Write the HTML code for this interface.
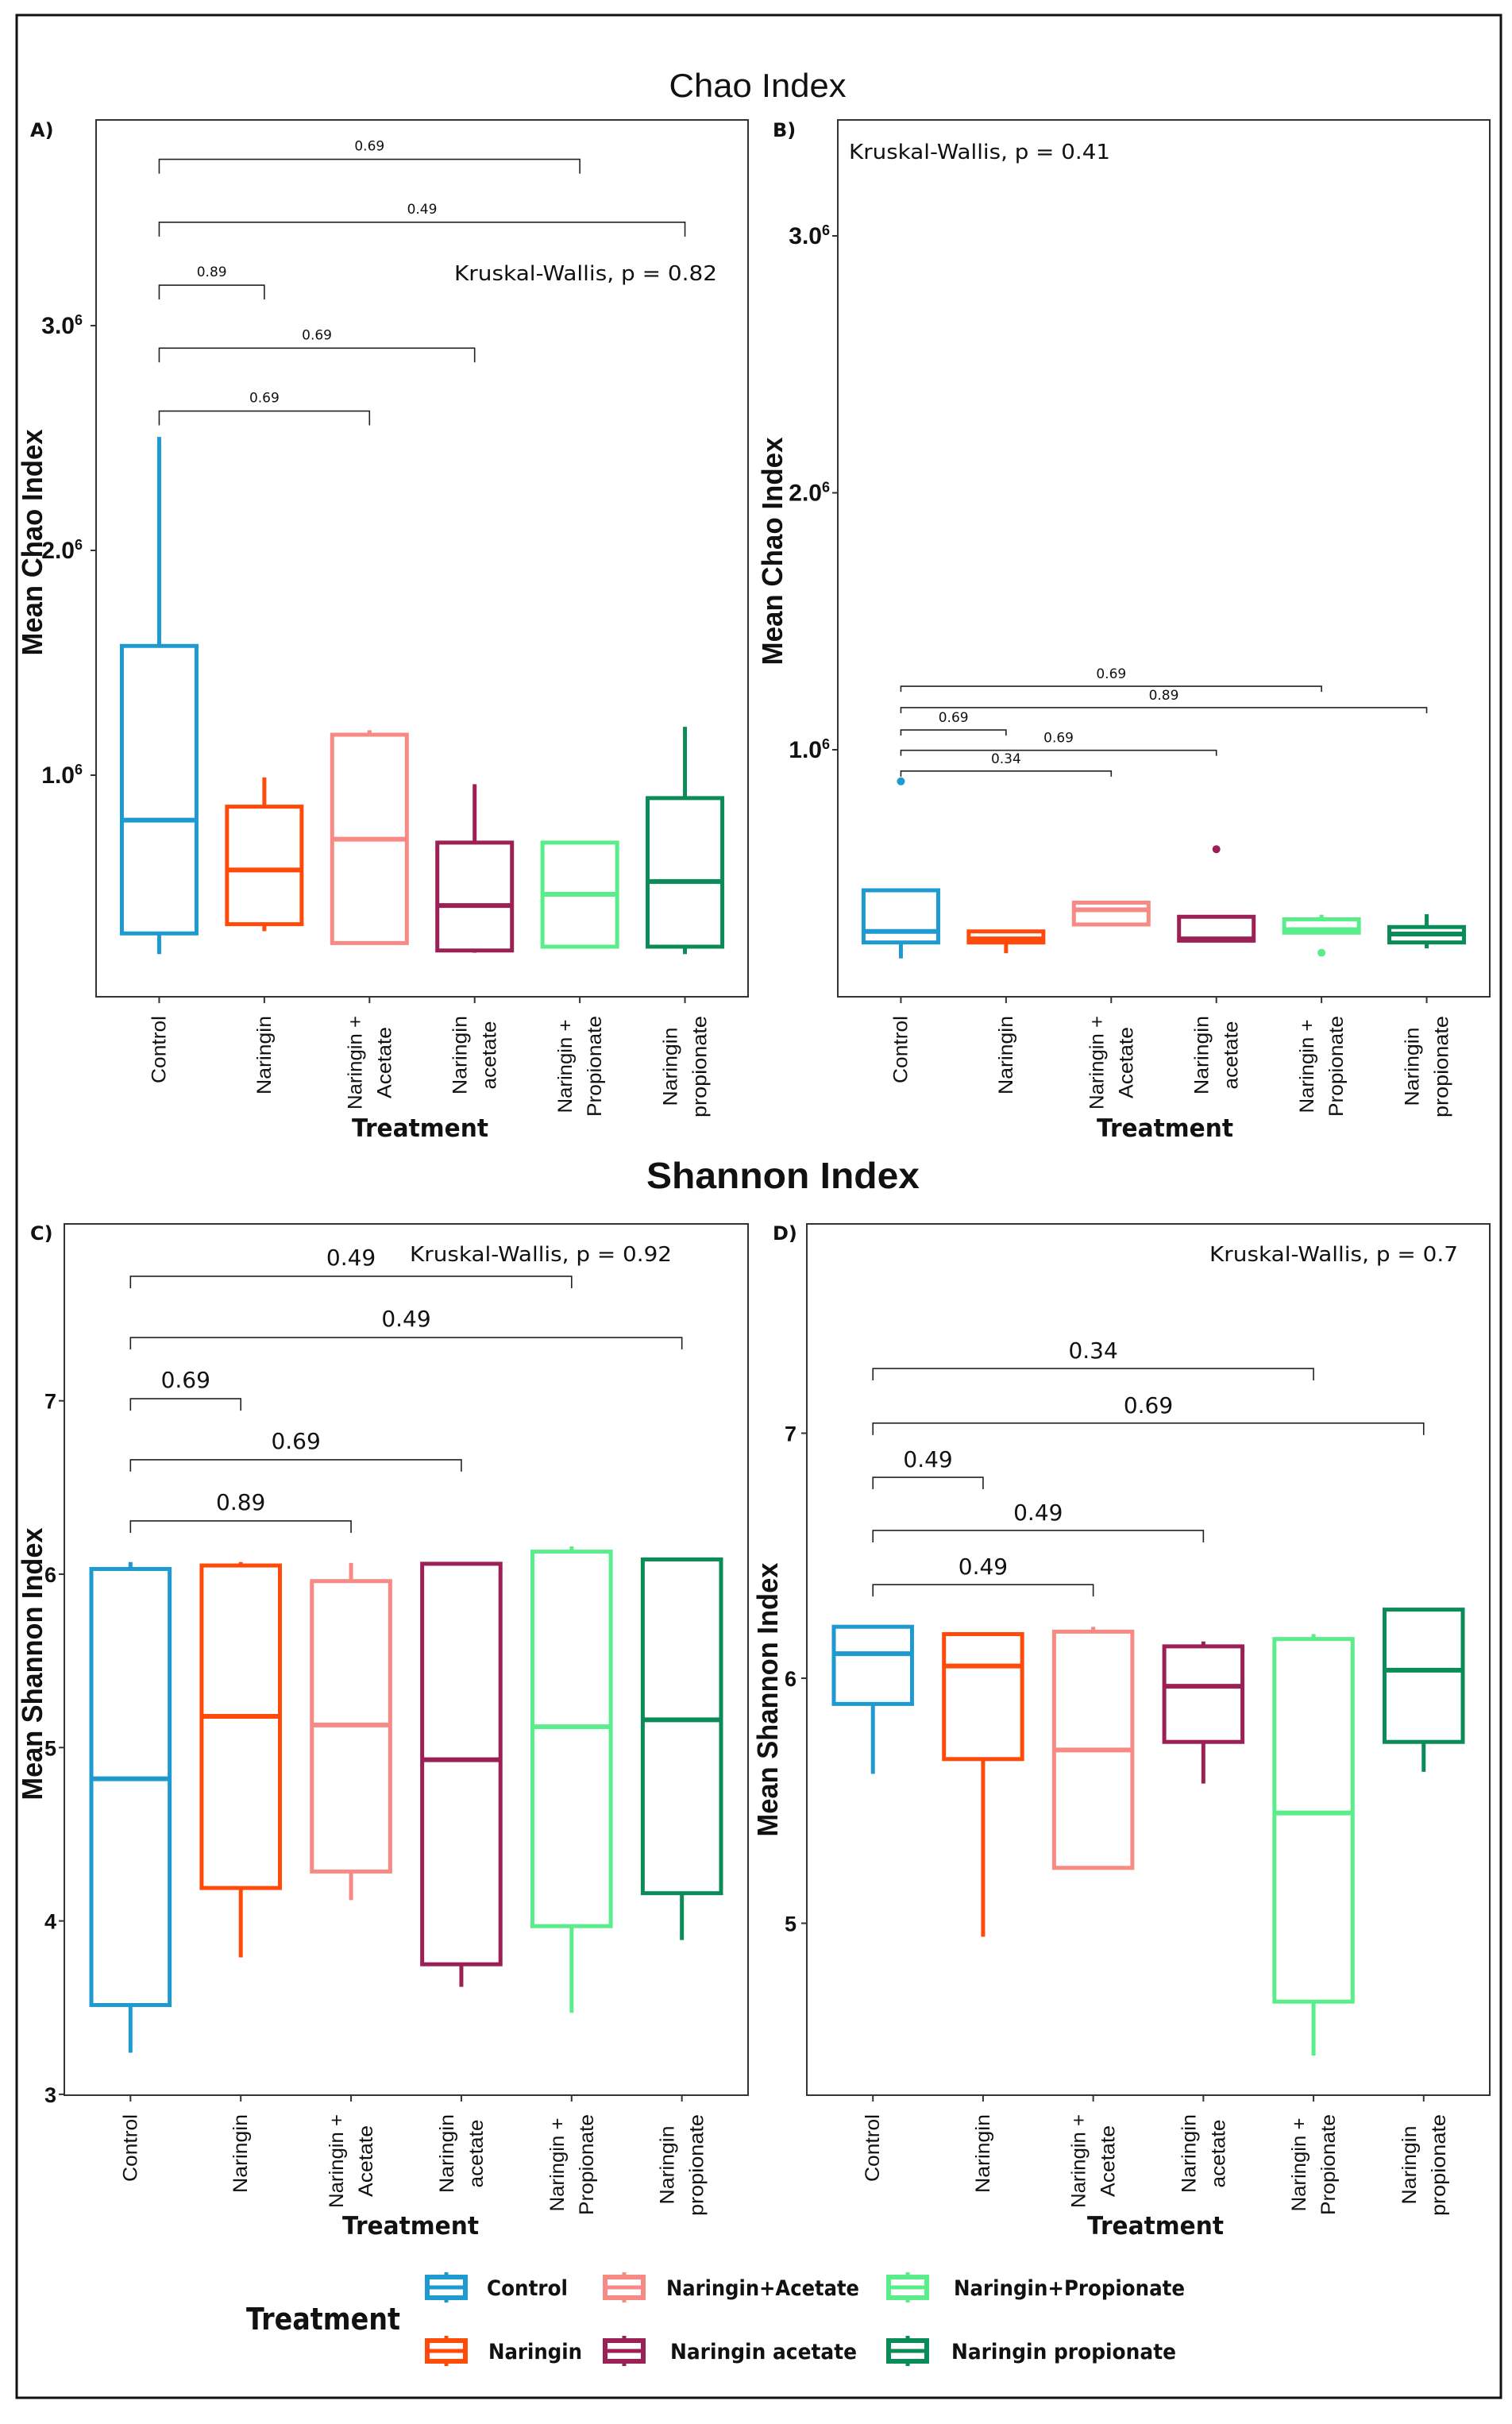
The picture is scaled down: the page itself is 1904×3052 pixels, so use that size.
<!DOCTYPE html>
<html><head><meta charset="utf-8">
<style>
html,body{margin:0;padding:0;background:#fff;}
svg{display:block;}
</style></head>
<body>
<svg id="fig" xmlns="http://www.w3.org/2000/svg" width="1904" height="3052" viewBox="0 0 1904 3052">
<rect x="0" y="0" width="1904" height="3052" fill="#fff"/>
<rect x="21" y="19" width="1869" height="3000" fill="none" stroke="#111" stroke-width="3"/>
</svg>
<script>
// ---- data ----
const categories=["Control","Naringin","Naringin + Acetate","Naringin acetate","Naringin + Propionate","Naringin propionate"];
const categoryLines=[["Control"],["Naringin"],["Naringin +","Acetate"],["Naringin","acetate"],["Naringin +","Propionate"],["Naringin","propionate"]];

const chaoA_low=[0.204,0.306,0.253,0.21,0.237,0.204];
const chaoA_q1=[0.296,0.337,0.253,0.22,0.237,0.237];
const chaoA_med=[0.80,0.578,0.715,0.42,0.47,0.527];
const chaoA_q3=[1.575,0.86,1.18,0.70,0.70,0.898];
const chaoA_high=[2.505,0.99,1.2,0.96,0.70,1.215];
const chaoA_out=[[],[],[],[],[],[]];
const chaoA_pairs=[4,5,1,3,2];
const chaoA_pvals=["0.69","0.49","0.89","0.69","0.69"];
const chaoA_brY=[3.74,3.46,3.18,2.90,2.62];
const chaoA_kw="Kruskal-Wallis, p = 0.82";

const chaoB_low=[0.188,0.208,0.32,0.257,0.288,0.227];
const chaoB_q1=[0.25,0.25,0.32,0.257,0.288,0.25];
const chaoB_med=[0.293,0.264,0.377,0.264,0.30,0.283];
const chaoB_q3=[0.453,0.293,0.405,0.35,0.34,0.31];
const chaoB_high=[0.453,0.293,0.41,0.35,0.358,0.36];
const chaoB_out=[[0.877],[],[],[0.613],[0.21],[]];
const chaoB_pairs=[4,5,1,3,2];
const chaoB_pvals=["0.69","0.89","0.69","0.69","0.34"];
const chaoB_brY=[1.247,1.164,1.077,0.998,0.917];
const chaoB_kw="Kruskal-Wallis, p = 0.41";

const shanC_low=[3.24,3.79,4.12,3.62,3.47,3.89];
const shanC_q1=[3.515,4.19,4.285,3.75,3.97,4.16];
const shanC_med=[4.82,5.18,5.13,4.93,5.12,5.16];
const shanC_q3=[6.03,6.05,5.96,6.06,6.13,6.085];
const shanC_high=[6.07,6.07,6.065,6.06,6.16,6.09];
const shanC_out=[[],[],[],[],[],[]];
const shanC_pairs=[4,5,1,3,2];
const shanC_pvals=["0.49","0.49","0.69","0.69","0.89"];
const shanC_brY=[7.718,7.365,7.012,6.660,6.307];
const shanC_kw="Kruskal-Wallis, p = 0.92";

const shanD_low=[5.61,4.945,5.226,5.57,4.46,5.618];
const shanD_q1=[5.895,5.67,5.226,5.74,4.68,5.74];
const shanD_med=[6.10,6.05,5.707,5.967,5.45,6.033];
const shanD_q3=[6.21,6.18,6.19,6.13,6.16,6.28];
const shanD_high=[6.217,6.18,6.21,6.15,6.18,6.287];
const shanD_out=[[],[],[],[],[],[]];
const shanD_pairs=[4,5,1,3,2];
const shanD_pvals=["0.34","0.69","0.49","0.49","0.49"];
const shanD_brY=[7.264,7.041,6.820,6.603,6.382];
const shanD_kw="Kruskal-Wallis, p = 0.7";

const chaoTicks=[1,2,3];
const shanCTicks=[3,4,5,6,7];
const shanDTicks=[5,6,7];

// ---- style ----
const colors=["#1e9ad0","#ff4a0a","#f88a85","#9b2055","#5bec8c","#0b8b57"];
const NS="http://www.w3.org/2000/svg";
const svg=document.getElementById('fig');

function mk(tag,attrs,parent){
  const e=document.createElementNS(NS,tag);
  for(const k in attrs)e.setAttribute(k,attrs[k]);
  (parent||svg).appendChild(e);
  return e;
}
function label(x,y,str,size,fam,weight,anchor,len,parent){
  const t=mk('text',{x:x,y:y,'font-size':size,'font-family':fam,'font-weight':weight,'text-anchor':anchor,fill:'#111'},parent);
  if(len){t.setAttribute('textLength',len);t.setAttribute('lengthAdjust','spacingAndGlyphs');}
  t.textContent=str;
  return t;
}
const SANS='"Liberation Sans", sans-serif';
const DJ='"DejaVu Sans", "Liberation Sans", sans-serif';

function panel(cfg){
  const g=mk('g',{});
  
  
  const w=cfg.right-cfg.left;
  const step=w/6.2;
  const xs=i=>cfg.left+(i+0.6)*step;
  const ys=v=>cfg.y0-(v-cfg.v0)*cfg.unit;
  const bw=0.71*step;
  const fr=mk('rect',{x:cfg.left,y:cfg.top,width:w,height:cfg.bottom-cfg.top,fill:'none',stroke:'#333','stroke-width':2},g);
  
  
  cfg.ticks.forEach(v=>{
    const y=ys(v);
    mk('line',{x1:cfg.left-7,x2:cfg.left,y1:y,y2:y,stroke:'#333','stroke-width':2},g);
    const t=label(cfg.tickRight,y+10,cfg.chao?v.toFixed(1):String(v),cfg.chao?30:27,SANS,'bold','end',null,g);
    if(cfg.chao){
      const sp=mk('tspan',{'font-size':18,dy:-11},t);
      sp.textContent='6';
      t.setAttribute('x',cfg.tickRight-4);
    }
    
    
  });
  categoryLines.forEach((lines,i)=>{
    const x=xs(i);
    mk('line',{x1:x,x2:x,y1:cfg.bottom,y2:cfg.bottom+8,stroke:'#333','stroke-width':2},g);
    const lens={"Control":85,"Naringin":99,"Naringin +":118,"Acetate":90,"acetate":86,"Propionate":127,"propionate":128};
    const blockLen=Math.max(...lines.map(l=>lens[l]));
    const yTop=cfg.bottom+24;
    const offs=lines.length===1?[0]:[-18,19];
    lines.forEach((ln,j)=>{
      const cx=x+offs[j]+8;
      const cy=yTop+blockLen/2;
      const t=label(0,0,ln,25,SANS,'normal','middle',lens[ln],g);
      t.setAttribute('transform','translate('+cx+','+cy+') rotate(-90)');
      
      
    });
  });
  for(let i=0;i<6;i++){
    const x=xs(i),c=colors[i];
    const wh=mk('line',{x1:x,x2:x,y1:ys(cfg.high[i]),y2:ys(cfg.q3[i]),stroke:c,'stroke-width':5},g);
    
    
    const wl=mk('line',{x1:x,x2:x,y1:ys(cfg.q1[i]),y2:ys(cfg.low[i]),stroke:c,'stroke-width':5},g);
    
    
    const b=mk('rect',{x:x-bw/2,y:ys(cfg.q3[i]),width:bw,height:Math.max(1,ys(cfg.q1[i])-ys(cfg.q3[i])),fill:'#fff',stroke:c,'stroke-width':5},g);
    
    
    const m=mk('line',{x1:x-bw/2,x2:x+bw/2,y1:ys(cfg.med[i]),y2:ys(cfg.med[i]),stroke:c,'stroke-width':6},g);
    
    
    cfg.out[i].forEach(v=>{
      const p=mk('circle',{cx:x,cy:ys(v),r:5,fill:c},g);
      
      
    });
  }
  cfg.pairs.forEach((j,k)=>{
    const y=ys(cfg.brY[k]),x1=xs(0),x2=xs(j);
    const br=mk('path',{d:'M'+x1+','+(y+cfg.tickLen)+'V'+y+'H'+x2+'V'+(y+cfg.tickLen),fill:'none',stroke:'#222','stroke-width':1.6},g);
    
    
    const t=label((x1+x2)/2,y-cfg.pOff,cfg.pvals[k],cfg.pSize,DJ,'normal','middle',null,g);
    
    
  });
  const kw=label(cfg.kwX,cfg.kwY,cfg.kw,26,DJ,'normal','start',cfg.kwLen,g);
  
  
  const pl=label(cfg.letterX,cfg.letterY,cfg.letter,24,DJ,'bold','start',null,g);
  
  
  const yt=label(0,0,cfg.ytitle,36,SANS,'bold','middle',cfg.ytLen,g);
  yt.setAttribute('transform','translate('+(cfg.ytX+13)+','+cfg.ytY+') rotate(-90)');
  
  
  const xt=label(cfg.xtX,cfg.xtY+11,'Treatment',31,DJ,'bold','middle',172,g);
  
  
}

panel({name:'panel-a-chao',left:121,right:942,top:151,bottom:1255,y0:976,v0:1,unit:283,chao:true,ticks:chaoTicks,tickRight:108,
  low:chaoA_low,q1:chaoA_q1,med:chaoA_med,q3:chaoA_q3,high:chaoA_high,out:chaoA_out,pairs:chaoA_pairs,pvals:chaoA_pvals,brY:chaoA_brY,
  tickLen:18,pOff:11,pSize:17,kw:chaoA_kw,kwX:572,kwY:353,kwLen:331,letter:'A)',letterX:38,letterY:172,
  ytitle:'Mean Chao Index',ytX:40,ytY:683,ytLen:285,xtX:529,xtY:1420});
panel({name:'panel-b-chao',left:1055,right:1876,top:151,bottom:1255,y0:944,v0:1,unit:323.5,chao:true,ticks:chaoTicks,tickRight:1049,
  low:chaoB_low,q1:chaoB_q1,med:chaoB_med,q3:chaoB_q3,high:chaoB_high,out:chaoB_out,pairs:chaoB_pairs,pvals:chaoB_pvals,brY:chaoB_brY,
  tickLen:7,pOff:10,pSize:17,kw:chaoB_kw,kwX:1069,kwY:200,kwLen:329,letter:'B)',letterX:973,letterY:172,
  ytitle:'Mean Chao Index',ytX:972,ytY:694,ytLen:287,xtX:1467,xtY:1420});
panel({name:'panel-c-shannon',left:81,right:942,top:1541,bottom:2638,y0:1982,v0:6,unit:218.3,chao:false,ticks:shanCTicks,tickRight:71,
  low:shanC_low,q1:shanC_q1,med:shanC_med,q3:shanC_q3,high:shanC_high,out:shanC_out,pairs:shanC_pairs,pvals:shanC_pvals,brY:shanC_brY,
  tickLen:15,pOff:14,pSize:28,kw:shanC_kw,kwX:516,kwY:1588,kwLen:330,letter:'C)',letterX:38,letterY:1561,
  ytitle:'Mean Shannon Index',ytX:40,ytY:2095,ytLen:343,xtX:517,xtY:2802});
panel({name:'panel-d-shannon',left:1016,right:1876,top:1541,bottom:2638,y0:2113,v0:6,unit:308.5,chao:false,ticks:shanDTicks,tickRight:1003,
  low:shanD_low,q1:shanD_q1,med:shanD_med,q3:shanD_q3,high:shanD_high,out:shanD_out,pairs:shanD_pairs,pvals:shanD_pvals,brY:shanD_brY,
  tickLen:15,pOff:13,pSize:28,kw:shanD_kw,kwX:1523,kwY:1588,kwLen:313,letter:'D)',letterX:973,letterY:1561,
  ytitle:'Mean Shannon Index',ytX:966,ytY:2140,ytLen:345,xtX:1455,xtY:2802});

const t1=label(954,122,'Chao Index',42,SANS,'normal','middle',223);


const t2=label(986,1496,'Shannon Index',46,SANS,'bold','middle',344);



const legendNames=["Control","Naringin","Naringin+Acetate","Naringin acetate","Naringin+Propionate","Naringin propionate"];
const legKeyX=[535,535,759,759,1116,1116];
const legKeyY=[2880,2960,2880,2960,2880,2960];
const legTextX=[613,615,839,844,1201,1198];
const legTextLen=[102,118,243,235,291,283];
const lt=label(310,2933,'Treatment',38,DJ,'bold','start',194);


legendNames.forEach((n,i)=>{
  const g=mk('g',{});
  
  
  const kx=legKeyX[i],ky=legKeyY[i],c=colors[i];
  mk('line',{x1:kx+27,x2:kx+27,y1:ky-19,y2:ky+19,stroke:c,'stroke-width':5},g);
  mk('rect',{x:kx+3,y:ky-13,width:48,height:26,fill:'#fff',stroke:c,'stroke-width':6},g);
  mk('line',{x1:kx+3,x2:kx+51,y1:ky,y2:ky,stroke:c,'stroke-width':5},g);
  const t=label(legTextX[i],ky+10,n,27,DJ,'bold','start',legTextLen[i],g);
  
  
});
</script>
</body></html>
